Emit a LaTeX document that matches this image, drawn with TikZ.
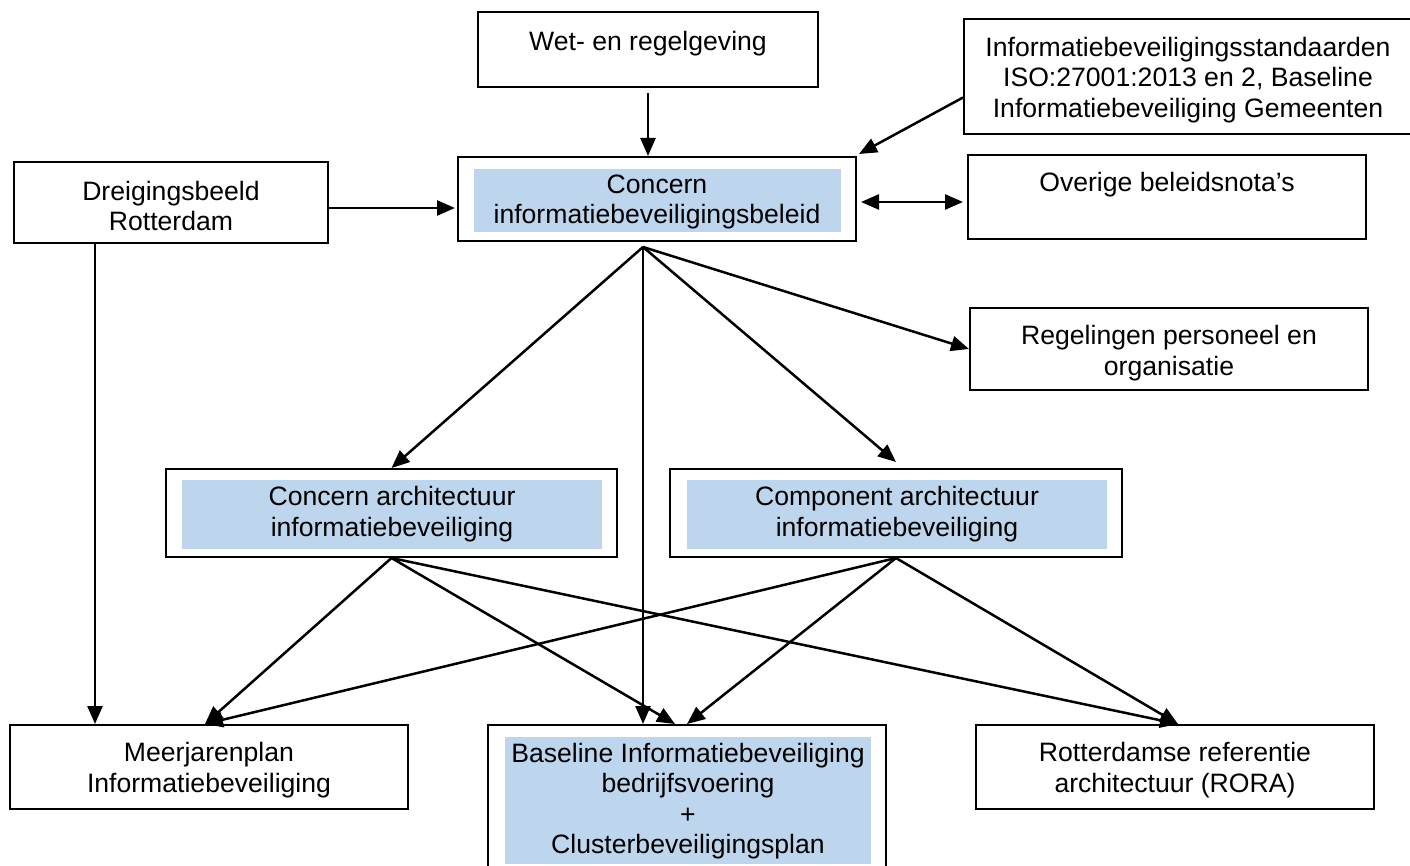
\documentclass[tikz,border=0pt]{standalone}
\usepackage{fontspec}
\setmainfont{Liberation Sans}
\usetikzlibrary{arrows.meta}
\definecolor{paleblue}{RGB}{189,214,238}
\begin{document}
\begin{tikzpicture}[x=1pt,y=-1pt,
  box/.style={draw, line width=2pt, inner sep=0pt},
  bluefill/.style={fill=paleblue, inner sep=0pt},
  lbl/.style={align=center, font=\fontsize{26.6}{30.5}\selectfont, inner sep=0pt},
  arr/.style={line width=2.5pt, -{Triangle[length=18pt,width=15pt]}},
  dblarr/.style={line width=2.5pt, {Triangle[length=18pt,width=15pt]}-{Triangle[length=18pt,width=15pt]}}]
\useasboundingbox (0,0) rectangle (1410,866);
\clip (0,0) rectangle (1410,866);

% boxes
\node[box, minimum width=340pt, minimum height=75pt] (wet) at (648,49.5) {};
\node[lbl] (wett) at (648,44) {Wet- en regelgeving};

\node[box, minimum width=448pt, minimum height=115pt] (iso) at (1188,76.5) {};
\node[lbl] (isot) at (1188,80) {Informatiebeveiligingsstandaarden\\ISO:27001:2013 en 2, Baseline\\Informatiebeveiliging Gemeenten};

\node[box, minimum width=398pt, minimum height=84pt] (concern) at (657,199) {};
\node[bluefill, minimum width=367pt, minimum height=63pt] (concernb) at (657.5,200.5) {};
\node[lbl] (concernt) at (657,202) {Concern\\informatiebeveiligingsbeleid};

\node[box, minimum width=314pt, minimum height=81pt] (dreig) at (171,202.5) {};
\node[lbl] (dreigt) at (171,206) {Dreigingsbeeld\\Rotterdam};

\node[box, minimum width=398pt, minimum height=84pt] (overige) at (1167,197) {};
\node[lbl] (overiget) at (1167,185) {Overige beleidsnota’s};

\node[box, minimum width=398pt, minimum height=82pt] (regel) at (1169,349) {};
\node[lbl] (regelt) at (1169,353) {Regelingen personeel en\\organisatie};

\node[box, minimum width=451pt, minimum height=88pt] (carch) at (391.5,513) {};
\node[bluefill, minimum width=420pt, minimum height=69pt] (carchb) at (392,514.5) {};
\node[lbl] (carcht) at (392,514) {Concern architectuur\\informatiebeveiliging};

\node[box, minimum width=452pt, minimum height=88pt] (comp) at (896,513) {};
\node[bluefill, minimum width=420pt, minimum height=69pt] (compb) at (897,514.5) {};
\node[lbl] (compt) at (897,514) {Component architectuur\\informatiebeveiliging};

\node[box, minimum width=398pt, minimum height=84pt] (meer) at (209,767) {};
\node[lbl] (meert) at (209,770) {Meerjarenplan\\Informatiebeveiliging};

\node[box, minimum width=398pt, minimum height=154pt] (base) at (687,802) {};
\node[bluefill, minimum width=366pt, minimum height=127pt] (baseb) at (688,800.5) {};
\node[lbl] (baset) at (688,801) {Baseline Informatiebeveiliging\\bedrijfsvoering\\+\\Clusterbeveiligingsplan};

\node[box, minimum width=398pt, minimum height=84pt] (rora) at (1175,767) {};
\node[lbl] (rorat) at (1175,770) {Rotterdamse referentie\\architectuur (RORA)};

% connectors
\coordinate (fan) at (643,247);
\draw[arr, shorten <=5pt] (wet.south) -- (wet.south |- concern.north);
\draw[arr] ([yshift=-21pt]iso.west) -- ([xshift=2pt,yshift=2pt]concern.north east);
\draw[arr, shorten >=2pt] ([yshift=-5.5pt]dreig.east) -- ([yshift=-5.5pt]dreig.east -| concern.west);
\draw[dblarr, shorten <=4pt, shorten >=4pt] ([yshift=-3pt]concern.east) -- ([yshift=-3pt]concern.east -| overige.west);

\draw[arr] (fan) -- (carch.north);
\draw[arr] (fan) -- (fan |- base.north);
\draw[arr] (fan) -- ([yshift=6pt]comp.north);
\draw[arr] (fan) -- (regel.west);

\draw[arr] ([xshift=-76pt]dreig.south) -- ([xshift=-76pt]dreig.south |- meer.north);

\draw[arr] (carch.south) -- ([xshift=-4pt]meer.north);
\draw[arr] (carch.south) -- ([xshift=-12pt]base.north);
\draw[arr] (carch.south) -- ([xshift=3pt]rora.north);

\draw[arr] (comp.south) -- ([xshift=-4pt]meer.north);
\draw[arr] (comp.south) -- (base.north);
\draw[arr] (comp.south) -- ([xshift=3pt]rora.north);
\end{tikzpicture}
\end{document}
